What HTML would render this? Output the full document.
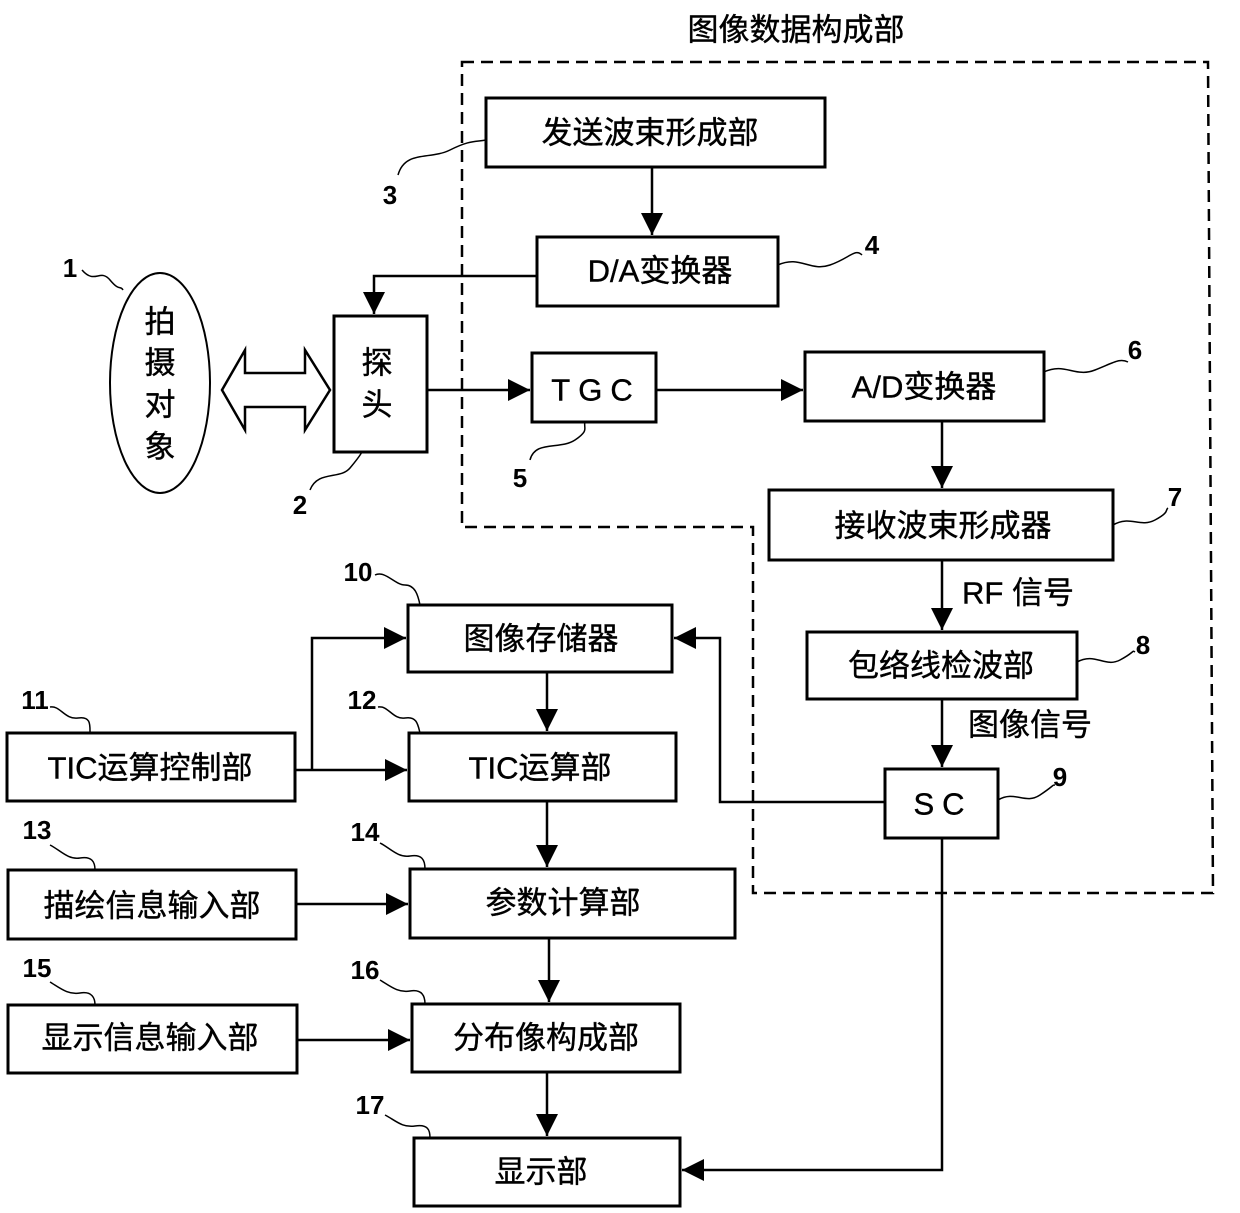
<!DOCTYPE html>
<html><head><meta charset="utf-8"><style>
html,body{margin:0;padding:0;background:#fff}
svg{display:block}
text{font-family:"Liberation Sans","Noto Sans CJK SC",sans-serif;fill:#000}
.b{fill:#fff;stroke:#000;stroke-width:3}
.l{fill:none;stroke:#000;stroke-width:2.5}
.s{fill:none;stroke:#000;stroke-width:1.5}
.t{font-size:31px;text-anchor:middle;dominant-baseline:central;stroke:#000;stroke-width:0.4}
.n{font-size:26px;font-weight:bold;text-anchor:middle;dominant-baseline:central}
</style></head><body>
<svg width="1240" height="1213" viewBox="0 0 1240 1213" xmlns="http://www.w3.org/2000/svg">
<defs>
<marker id="A" viewBox="0 0 10 10" refX="10" refY="5" markerWidth="22" markerHeight="22" orient="auto" markerUnits="userSpaceOnUse"><path d="M0,0 L10,5 L0,10z"/></marker></defs>

<text x="796" y="30" class="t">图像数据构成部</text>
<path d="M462,62 L1208,62 L1213,893 L753,893 L753,527 L462,527 Z" fill="none" stroke="#000" stroke-width="2.5" stroke-dasharray="12,7"/>

<ellipse cx="160" cy="383" rx="50" ry="110" fill="#fff" stroke="#000" stroke-width="2"/>
<text x="160" y="322" class="t">拍</text><text x="160" y="363" class="t">摄</text><text x="160" y="405" class="t">对</text><text x="160" y="447" class="t">象</text>

<path d="M222,390 L245,350 L245,373 L305,373 L305,350 L330,390 L305,430 L305,407 L245,407 L245,430 Z" fill="#fff" stroke="#000" stroke-width="2.5"/>

<rect class="b" x="334" y="316" width="93" height="136"/>
<text x="377" y="363" class="t">探</text><text x="377" y="405" class="t">头</text>

<rect class="b" x="486" y="98" width="339" height="69"/><text x="650" y="133" class="t">发送波束形成部</text>
<rect class="b" x="537" y="237" width="241" height="69"/><text x="660" y="271" class="t">D/A变换器</text>
<rect class="b" x="532" y="353" width="124" height="69"/><text x="596" y="390" class="t" style="letter-spacing:8px">TGC</text>
<rect class="b" x="805" y="352" width="239" height="69"/><text x="924" y="387" class="t">A/D变换器</text>
<rect class="b" x="769" y="490" width="344" height="70"/><text x="943" y="526" class="t">接收波束形成器</text>
<rect class="b" x="807" y="632" width="270" height="67"/><text x="941" y="666" class="t">包络线检波部</text>
<rect class="b" x="885" y="769" width="113" height="69"/><text x="943" y="804" class="t" style="letter-spacing:8px">SC</text>
<rect class="b" x="408" y="605" width="264" height="67"/><text x="541" y="639" class="t">图像存储器</text>
<rect class="b" x="7" y="733" width="288" height="68"/><text x="150" y="768" class="t">TIC运算控制部</text>
<rect class="b" x="409" y="733" width="267" height="68"/><text x="540" y="768" class="t">TIC运算部</text>
<rect class="b" x="410" y="869" width="325" height="69"/><text x="563" y="903" class="t">参数计算部</text>
<rect class="b" x="8" y="870" width="288" height="69"/><text x="152" y="906" class="t">描绘信息输入部</text>
<rect class="b" x="8" y="1005" width="289" height="68"/><text x="150" y="1038" class="t">显示信息输入部</text>
<rect class="b" x="412" y="1004" width="268" height="68"/><text x="546" y="1038" class="t">分布像构成部</text>
<rect class="b" x="414" y="1138" width="266" height="68"/><text x="541" y="1172" class="t">显示部</text>

<g class="l">
<path d="M652,167 V235" marker-end="url(#A)"/>
<path d="M537,276 H374 V314" marker-end="url(#A)"/>
<path d="M427,390 H530" marker-end="url(#A)"/>
<path d="M656,390 H803" marker-end="url(#A)"/>
<path d="M942,421 V488" marker-end="url(#A)"/>
<path d="M942,560 V630" marker-end="url(#A)"/>
<path d="M942,699 V767" marker-end="url(#A)"/>
<path d="M885,802 H720 V638 H674" marker-end="url(#A)"/>
<path d="M942,838 V1170 H682" marker-end="url(#A)"/>
<path d="M295,770 H407" marker-end="url(#A)"/>
<path d="M312,770 V638 H406" marker-end="url(#A)"/>
<path d="M547,672 V731" marker-end="url(#A)"/>
<path d="M547,801 V867" marker-end="url(#A)"/>
<path d="M296,904 H408" marker-end="url(#A)"/>
<path d="M549,938 V1002" marker-end="url(#A)"/>
<path d="M297,1040 H410" marker-end="url(#A)"/>
<path d="M547,1072 V1136" marker-end="url(#A)"/>
</g>
<text x="1018" y="593" class="t">RF 信号</text>
<text x="1030" y="725" class="t">图像信号</text>

<g class="s">
<path d="M82,270 C95,285 100,268 110,280 S120,285 123,290"/>
<path d="M310,490 C318,470 340,480 350,468 S360,455 362,452"/>
<path d="M398,175 C405,150 430,160 450,150 S475,142 486,140"/>
<path d="M778,265 C800,255 810,272 830,265 S855,248 862,255"/>
<path d="M530,460 C535,440 560,450 575,440 S583,428 585,422"/>
<path d="M1044,372 C1065,362 1075,378 1095,370 S1120,358 1128,362"/>
<path d="M1113,525 C1130,515 1140,528 1155,520 S1165,510 1168,508"/>
<path d="M1077,662 C1095,652 1105,668 1120,660 S1132,650 1135,652"/>
<path d="M998,800 C1015,790 1025,805 1040,795 S1052,785 1055,785"/>
<path d="M375,575 C385,570 395,585 405,585 S418,595 420,605"/>
<path d="M50,707 C60,705 65,720 78,718 S90,725 90,733"/>
<path d="M378,707 C388,705 393,720 405,718 S418,725 420,733"/>
<path d="M50,845 C60,850 68,860 80,858 S95,862 95,870"/>
<path d="M380,843 C390,848 398,858 410,856 S425,860 425,869"/>
<path d="M50,982 C60,988 68,995 80,993 S95,998 95,1005"/>
<path d="M380,980 C390,986 398,993 410,991 S425,996 425,1004"/>
<path d="M385,1115 C395,1120 402,1128 415,1126 S430,1130 430,1138"/>
</g>
<text x="70" y="268" class="n">1</text>
<text x="300" y="505" class="n">2</text>
<text x="390" y="195" class="n">3</text>
<text x="872" y="245" class="n">4</text>
<text x="520" y="478" class="n">5</text>
<text x="1135" y="350" class="n">6</text>
<text x="1175" y="497" class="n">7</text>
<text x="1143" y="645" class="n">8</text>
<text x="1060" y="777" class="n">9</text>
<text x="358" y="572" class="n">10</text>
<text x="35" y="700" class="n">11</text>
<text x="362" y="700" class="n">12</text>
<text x="37" y="830" class="n">13</text>
<text x="365" y="832" class="n">14</text>
<text x="37" y="968" class="n">15</text>
<text x="365" y="970" class="n">16</text>
<text x="370" y="1105" class="n">17</text>
</svg>
</body></html>
